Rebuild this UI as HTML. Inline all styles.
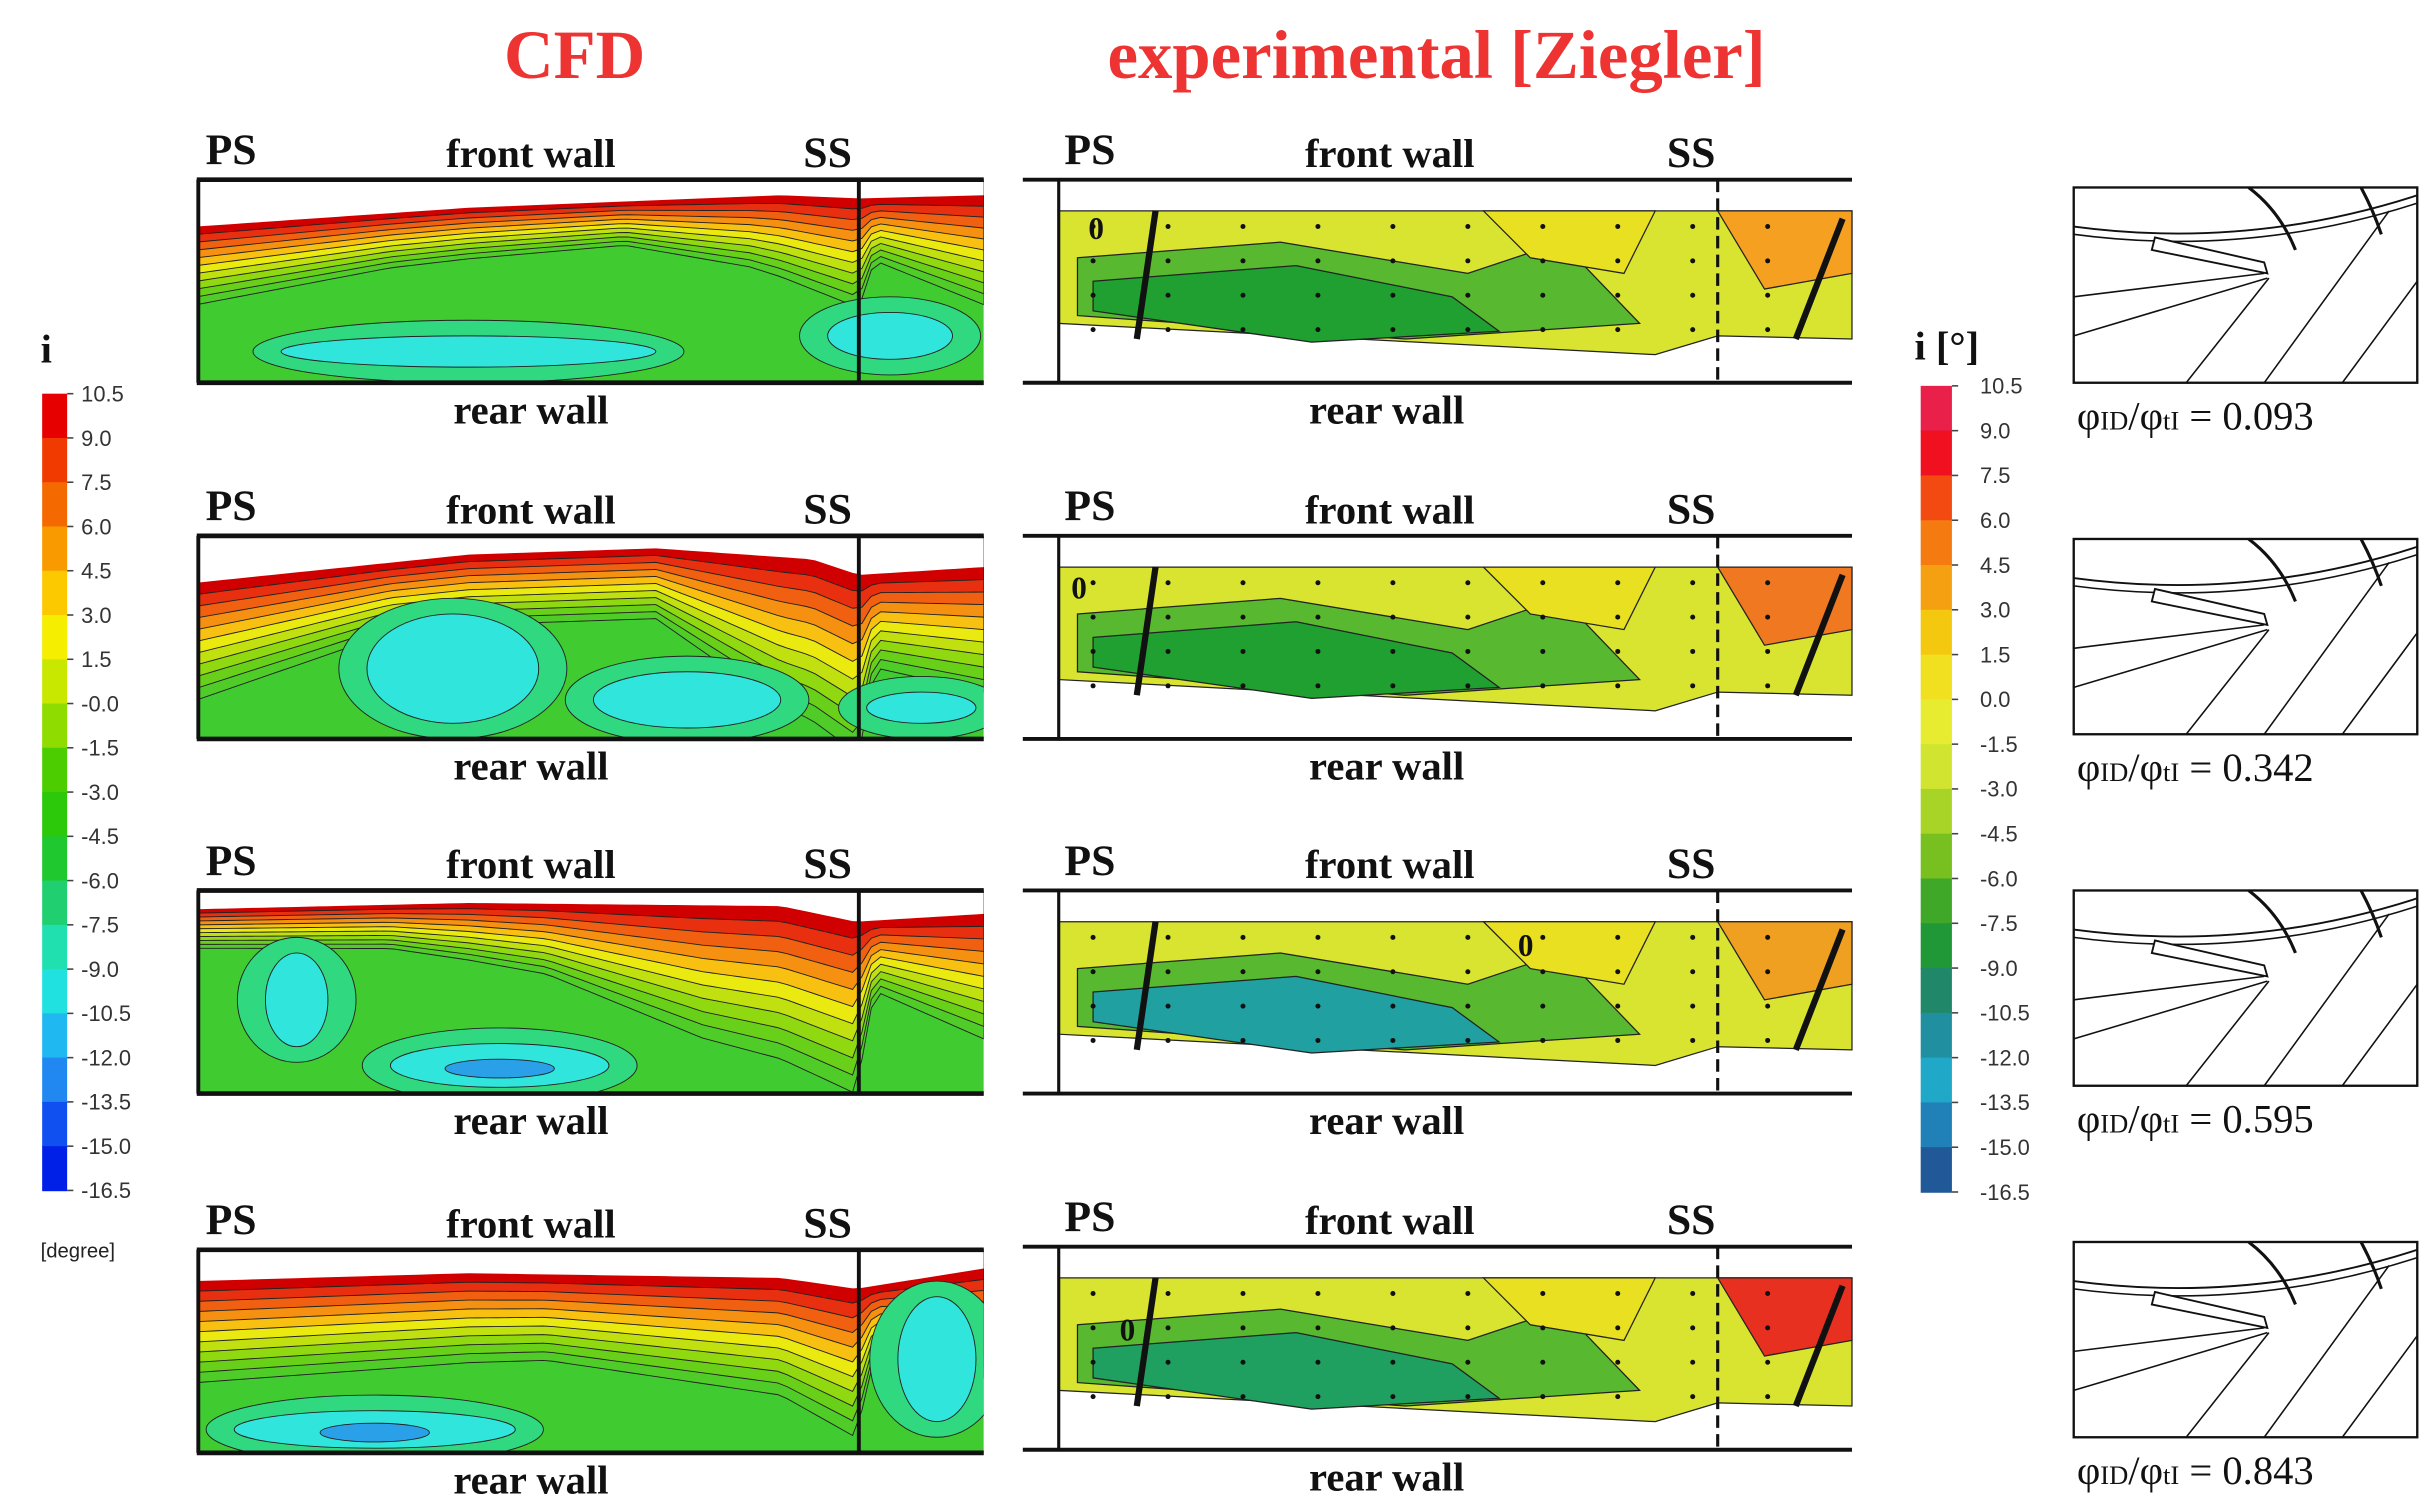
<!DOCTYPE html>
<html><head><meta charset="utf-8"><style>
html,body{margin:0;padding:0;background:#fff;}
svg{display:block}
text{font-family:"Liberation Serif",serif;font-weight:bold;}
.sans{font-family:"Liberation Sans",sans-serif;font-weight:normal;}
</style></head><body>
<svg id="fig" width="2436" height="1506" viewBox="0 0 1560 964" preserveAspectRatio="none" xmlns="http://www.w3.org/2000/svg">
<text x="368" y="50" font-size="44" fill="#ee3333" text-anchor="middle">CFD</text>
<text x="920" y="50" font-size="44" fill="#ee3333" text-anchor="middle">experimental [Ziegler]</text>
<g id="root"></g>
</svg>
<script>
const leftTicks=["10.5","9.0","7.5","6.0","4.5","3.0","1.5","-0.0","-1.5","-3.0","-4.5","-6.0","-7.5","-9.0","-10.5","-12.0","-13.5","-15.0","-16.5"];
const rightTicks=["10.5","9.0","7.5","6.0","4.5","3.0","1.5","0.0","-1.5","-3.0","-4.5","-6.0","-7.5","-9.0","-10.5","-12.0","-13.5","-15.0","-16.5"];
const leftColors=["#e60000","#f03a00","#f56a00","#f99a00","#fcc800","#f5ee00","#c8e800","#8fdc00","#4ccd00","#2cc80a","#20c830","#20d070","#20e0b0","#20e0e0","#20b8f0","#2088f0","#1050f0","#0020e8"];
const rightColors=["#e8204a","#f01020","#f24a10","#f57a10","#f5a010","#f5c810","#f0e020","#e8ec30","#d0e430","#a8d428","#78c020","#40a828","#209838","#208868","#2090a0","#20a8c8","#2080b8","#205898"];
const ratios=["0.093","0.342","0.595","0.843"];
const NS="http://www.w3.org/2000/svg";
const root=document.getElementById('root');
function el(tag,attrs,parent,txt){const e=document.createElementNS(NS,tag);for(const k in attrs)e.setAttribute(k,attrs[k]);if(txt!==undefined)e.textContent=txt;(parent||root).appendChild(e);return e;}

function colorbar(x,y0,y1,w,colors,ticks,tx,name){
  const g=el('g',{});
  
  
  const n=colors.length,h=(y1-y0)/n;
  colors.forEach((c,i)=>{el('rect',{x:x,y:y0+i*h,width:w,height:h+0.5,fill:c},g);});
  ticks.forEach((t,i)=>{const yy=y0+i*(y1-y0)/(ticks.length-1);
    el('line',{x1:x+w,x2:x+w+4,y1:yy,y2:yy,stroke:'#444','stroke-width':1},g);
    const tt=el('text',{x:tx,y:yy+5,'font-size':14,fill:'#333',class:'sans'},g,t);
    
    });
}
colorbar(27,252,762,16,leftColors,leftTicks,52,'cfd-colorbar');
colorbar(1230,247,763,20,rightColors,rightTicks,1268,'exp-colorbar');
el('text',{x:26,y:232,'font-size':26,fill:'#111'},root,'i');
el('text',{x:26,y:805,'font-size':13,fill:'#222',class:'sans'},root,'[degree]');
el('text',{x:1226,y:230,'font-size':26,fill:'#111'},root,'i [°]');

const cfdTops=[115,343,570,800];
const expTops=[115,343,570,798];
const cfdBands=["#d00000","#e83010","#f06010","#f59010","#f8c010","#eaea10","#c0e010","#90d810","#68d018","#50cc28"];
const profiles=[
 [[126,50],[250,35],[400,28],[480,45],[550,70],[560,40],[630,70]],
 [[126,75],[250,45],[420,45],[500,95],[550,115],[560,60],[630,80]],
 [[126,25],[250,28],[350,45],[450,85],[548,110],[560,45],[630,80]],
 [[126,65],[350,55],[500,75],[548,95],[560,45],[630,70]]];
const edges=[[[126,30],[300,18],[500,10],[550,12],[630,10]],[[126,30],[300,12],[420,8],[520,15],[550,25],[630,20]],[[126,12],[300,8],[500,10],[548,20],[630,15]],[[126,20],[300,15],[500,18],[548,25],[630,12]]];
function interp(p,x){for(let i=0;i<p.length-1;i++){if(x<=p[i+1][0]){const t=(x-p[i][0])/(p[i+1][0]-p[i][0]);return p[i][1]+t*(p[i+1][1]-p[i][1]);}}return p[p.length-1][1];}
function lbl(x,y,s,t,name){const e=el('text',{x:x,y:y,'font-size':s,fill:'#111','text-anchor':'middle'},root,t);}

cfdTops.forEach((top,r)=>{
  const x0=126,x1=630,h=130,bot=top+h;
  lbl(148,top-10,28,'PS','ps-label');lbl(340,top-8,26,'front wall','front-wall-label');lbl(530,top-8,28,'SS','ss-label');lbl(340,bot+26,26,'rear wall','rear-wall-label');
  const g=el('g',{});
  
  
  const cid='c'+r;const cp=el('clipPath',{id:cid},g);el('rect',{x:x0,y:top,width:x1-x0,height:h},cp);
  const gg=el('g',{'clip-path':'url(#'+cid+')'},g);
  el('rect',{x:x0,y:top,width:x1-x0,height:h,fill:'#40cc30'},gg);
  const N=cfdBands.length;
  for(let i=N-1;i>=0;i--){
    let d=`M${x0},${top}`;
    for(let x=x0;x<=x1;x+=6){const e=interp(edges[r],x);const dep=interp(profiles[r],x);d+=` L${x},${top+e+(dep)*(i+1)/N}`;}
    d+=` L${x1},${top} Z`;
    el('path',{d:d,fill:cfdBands[i],stroke:'#222','stroke-width':0.6},gg);
  }
  let d=`M${x0},${top}`;for(let x=x0;x<=x1;x+=6)d+=` L${x},${top+interp(edges[r],x)}`;d+=` L${x1},${top} Z`;
  el('path',{d:d,fill:'#fff'},gg);
  const blobs=[[[300,bot-20,120,10],[570,bot-30,40,15]],[[290,bot-45,55,35],[440,bot-25,60,18],[590,bot-20,35,10]],[[190,top+70,20,30],[320,bot-18,70,14]],[[240,bot-15,90,12],[600,top+70,25,40]]][r];
  blobs.forEach(b=>{el('ellipse',{cx:b[0],cy:b[1],rx:b[2]+18,ry:b[3]+10,fill:'#30d880',stroke:'#222','stroke-width':0.6},gg);
    el('ellipse',{cx:b[0],cy:b[1],rx:b[2],ry:b[3],fill:'#30e6dc',stroke:'#222','stroke-width':0.6},gg);});
  if(r==2||r==3)el('ellipse',{cx:blobs[r==2?1:0][0],cy:blobs[r==2?1:0][1]+2,rx:35,ry:6,fill:'#2aa0e8',stroke:'#222','stroke-width':0.6},gg);
  el('line',{x1:x0,x2:x1,y1:top,y2:top,stroke:'#111','stroke-width':3},g);
  el('line',{x1:x0,x2:x1,y1:bot,y2:bot,stroke:'#111','stroke-width':3},g);
  el('line',{x1:x0+1,x2:x0+1,y1:top,y2:bot,stroke:'#111','stroke-width':2.5},g);
  el('line',{x1:550,x2:550,y1:top,y2:bot,stroke:'#111','stroke-width':2.5},g);
});

const expFill=[["#20a030","#e8e020","#f5a020"],["#20a030","#e8e020","#f07820"],["#20a0a0","#e8e020","#f0a020"],["#20a060","#e8e020","#e83020"]];
expTops.forEach((top,r)=>{
  const x0=655,x1=1186,h=130,bot=top+h;
  lbl(698,top-10,28,'PS','ps-label');lbl(890,top-8,26,'front wall','front-wall-label');lbl(1083,top-8,28,'SS','ss-label');lbl(888,bot+26,26,'rear wall','rear-wall-label');
  const g=el('g',{});
  
  
  const t2=top+20,b2=bot-18;
  el('path',{d:`M678,${t2} L${x1},${t2} L${x1},${b2-10} L1100,${b2-12} L1060,${b2} L678,${b2-20} Z`,fill:'#d8e430',stroke:'#222','stroke-width':0.8},g);
  const c=expFill[r];
  el('path',{d:`M690,${t2+30} L820,${t2+20} L940,${t2+40} L1000,${t2+20} L1050,${b2-20} L900,${b2-10} L690,${b2-25} Z`,fill:'#58b830',stroke:'#222','stroke-width':0.8},g);
  el('path',{d:`M700,${t2+45} L830,${t2+35} L930,${t2+55} L960,${b2-15} L840,${b2-8} L700,${b2-28} Z`,fill:c[0],stroke:'#222','stroke-width':0.8},g);
  el('path',{d:`M1100,${t2} L${x1},${t2} L${x1},${t2+40} L1130,${t2+50} Z`,fill:c[2],stroke:'#222','stroke-width':0.8},g);
  el('path',{d:`M950,${t2} L1060,${t2} L1040,${t2+40} L980,${t2+30} Z`,fill:c[1],stroke:'#222','stroke-width':0.8},g);
  for(let i=0;i<10;i++)for(let j=0;j<4;j++)el('circle',{cx:700+i*48,cy:t2+10+j*22,r:1.6,fill:'#111'},g);
  el('line',{x1:x0,x2:x1,y1:top,y2:top,stroke:'#111','stroke-width':2.5},g);
  el('line',{x1:x0,x2:x1,y1:bot,y2:bot,stroke:'#111','stroke-width':2.5},g);
  el('line',{x1:678,x2:678,y1:top,y2:bot,stroke:'#111','stroke-width':2},g);
  el('line',{x1:1100,x2:1100,y1:top,y2:bot,stroke:'#111','stroke-width':2,'stroke-dasharray':'8 4'},g);
  el('path',{d:`M740,${t2} L728,${b2-10}`,stroke:'#111','stroke-width':4,fill:'none'},g);
  el('path',{d:`M1180,${t2+5} L1150,${b2-10}`,stroke:'#111','stroke-width':4,fill:'none'},g);
  el('text',{x:[697,686,972,717][r],y:t2+[18,20,22,40][r],'font-size':20,fill:'#111'},g,'0');
});

const thTops=[120,345,570,795];
thTops.forEach((top,r)=>{
  const g=el('g',{});
  
  
  const x0=1328,x1=1548,h=125,b=top+h;
  el('rect',{x:x0,y:top,width:x1-x0,height:h,fill:'#fff',stroke:'#111','stroke-width':1.5},g);
  el('path',{d:`M${x0},${top+25} Q1440,${top+40} ${x1},${top+5}`,stroke:'#111','stroke-width':1.2,fill:'none'},g);
  el('path',{d:`M${x0},${top+30} Q1440,${top+45} ${x1},${top+10}`,stroke:'#111','stroke-width':1,fill:'none'},g);
  el('path',{d:`M1380,${top+32} L1450,${top+48} L1452,${top+55} L1378,${top+40} Z`,fill:'#fff',stroke:'#111','stroke-width':1.2},g);
  el('path',{d:`M1440,${top} Q1460,${top+15} 1470,${top+40}`,stroke:'#111','stroke-width':2,fill:'none'},g);
  el('path',{d:`M1512,${top} Q1520,${top+15} 1525,${top+30}`,stroke:'#111','stroke-width':2,fill:'none'},g);
  el('line',{x1:x0,y1:top+70,x2:1450,y2:top+55,stroke:'#111','stroke-width':1},g);
  el('line',{x1:x0,y1:top+95,x2:1452,y2:top+58,stroke:'#111','stroke-width':1},g);
  el('line',{x1:1400,y1:b,x2:1453,y2:top+58,stroke:'#111','stroke-width':1},g);
  el('line',{x1:1450,y1:b,x2:1530,y2:top+15,stroke:'#111','stroke-width':1},g);
  el('line',{x1:1500,y1:b,x2:x1,y2:top+60,stroke:'#111','stroke-width':1},g);
  const t=el('text',{x:1330,y:b+30,'font-size':26,fill:'#111',style:'font-weight:normal'},root);
  
  
  t.innerHTML='φ<tspan font-size="17">ID</tspan>/φ<tspan font-size="17">tI</tspan> = '+ratios[r];
});
</script>
</body></html>
